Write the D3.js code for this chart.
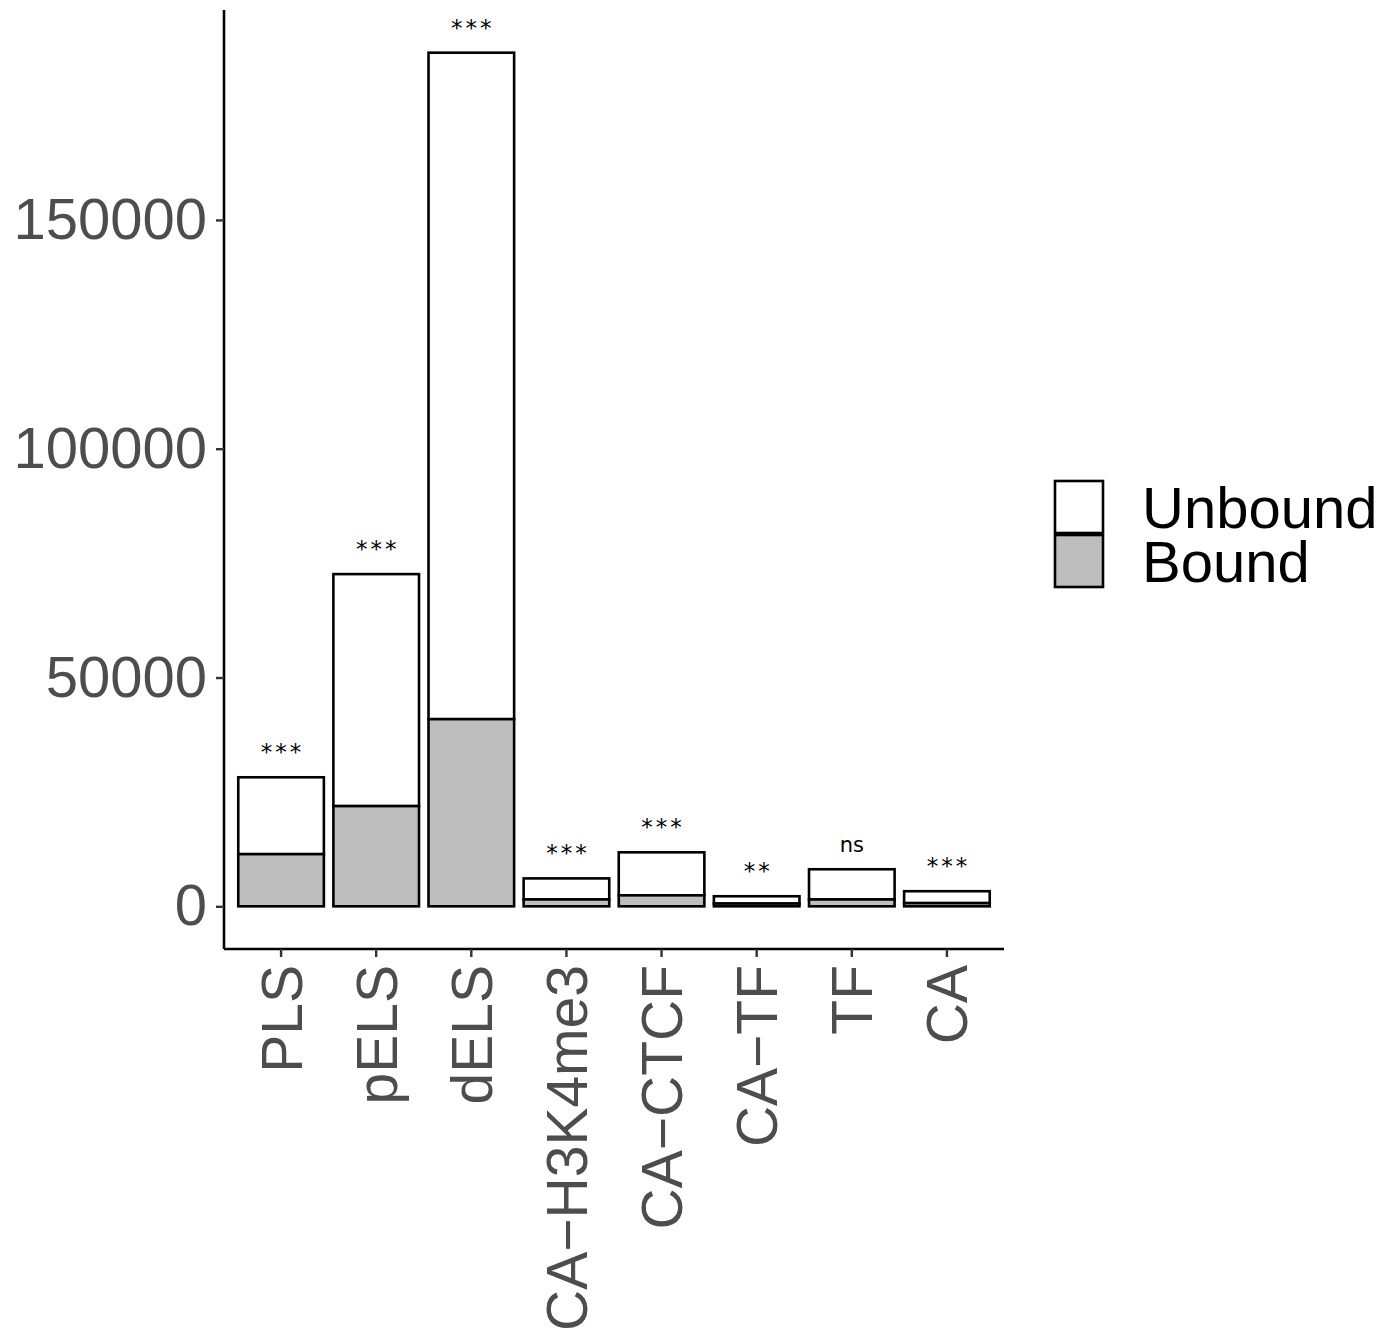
<!DOCTYPE html>
<html>
<head>
<meta charset="utf-8">
<script src="https://cdn.jsdelivr.net/npm/d3@7"></script>
<style>
  body { margin: 0; background: #fff; }
</style>
</head>
<body>
<div id="container"></div>
<script>
// data
const categories = ["PLS", "pELS", "dELS", "CA\u2212H3K4me3", "CA\u2212CTCF", "CA\u2212TF", "TF", "CA"];
const boundVals = [11400, 21900, 40900, 1500, 2400, 600, 1500, 700];
const totalVals = [28200, 72600, 186550, 6100, 11800, 2200, 8100, 3300];
const sigLabels = ["***", "***", "***", "***", "***", "**", "ns", "***"];
const yTicks = [0, 50000, 100000, 150000];
const legendLabels = ["Unbound", "Bound"];
const legendFills = ["#ffffff", "#bebebe"];

const w = 1383, h = 1340;
const svg = d3.select("#container").append("svg")
  .attr("width", w).attr("height", h);

const maxV = d3.max(totalVals);
const y = d3.scaleLinear()
  .domain([-0.05 * maxV, 1.05 * maxV])
  .range([949, 10]);

const x = d3.scaleBand()
  .domain(categories)
  .range([224, 1004])
  .paddingInner(0.1)
  .paddingOuter(0.15);

// bars: bound (bottom) and unbound (top)
const g = svg.append("g");
g.selectAll("rect.unbound")
  .data(categories)
  .enter().append("rect")
  .attr("class", "unbound")
  .attr("x", d => x(d))
  .attr("width", x.bandwidth())
  .attr("y", (d, i) => y(totalVals[i]))
  .attr("height", (d, i) => y(boundVals[i]) - y(totalVals[i]))
  .attr("fill", legendFills[0])
  .attr("stroke", "#000").attr("stroke-width", 2.6);

g.selectAll("rect.bound")
  .data(categories)
  .enter().append("rect")
  .attr("class", "bound")
  .attr("x", d => x(d))
  .attr("width", x.bandwidth())
  .attr("y", (d, i) => y(boundVals[i]))
  .attr("height", (d, i) => y(0) - y(boundVals[i]))
  .attr("fill", legendFills[1])
  .attr("stroke", "#000").attr("stroke-width", 2.6);

// significance labels
g.selectAll("text.sig")
  .data(categories)
  .enter().append("text")
  .attr("class", "sig")
  .attr("x", d => x(d) + x.bandwidth() / 2)
  .attr("y", (d, i) => y(totalVals[i]) - 17)
  .attr("dx", (d, i) => sigLabels[i] === "ns" ? 0 : 1.5)
  .attr("text-anchor", "middle")
  .style("font-family", "'DejaVu Sans', sans-serif")
  .style("font-size", (d, i) => sigLabels[i] === "ns" ? "21px" : "23px")
  .style("letter-spacing", (d, i) => sigLabels[i] === "ns" ? "0px" : "3px")
  .attr("fill", "#000")
  .text((d, i) => sigLabels[i]);

// axes
const yAxis = d3.axisLeft(y).tickValues(yTicks).tickFormat(d3.format("d")).tickSize(8).tickPadding(9);
const yG = svg.append("g").attr("transform", "translate(224,0)").call(yAxis);
const xAxis = d3.axisBottom(x).tickSize(8).tickPadding(8);
const xG = svg.append("g").attr("transform", "translate(0,949)").call(xAxis);

[yG, xG].forEach(a => {
  a.select(".domain").attr("stroke", "#000").attr("stroke-width", 2.6);
  a.selectAll(".tick line").attr("stroke", "#333").attr("stroke-width", 2.4);
  a.selectAll("text")
    .style("font-family", "'Liberation Sans', Arial, sans-serif")
    .style("font-size", "57px")
    .attr("fill", "#4d4d4d");
});
yG.selectAll(".tick text").style("font-size", "58px");
yG.select(".domain").attr("d", "M0,10V949");
xG.select(".domain").attr("d", "M224,0H1004");

xG.selectAll(".tick text")
  .attr("transform", "rotate(-90)")
  .attr("text-anchor", "end")
  .attr("x", -16)
  .attr("y", 0)
  .attr("dy", "0.36em");

// legend
const leg = svg.append("g").attr("transform", "translate(1055,481)");
legendLabels.forEach((lab, i) => {
  leg.append("rect")
    .attr("x", 0).attr("y", i * 54)
    .attr("width", 48).attr("height", 52)
    .attr("fill", legendFills[i])
    .attr("stroke", "#000").attr("stroke-width", 2.6);
  leg.append("text")
    .attr("x", 87).attr("y", i * 54 + 26)
    .attr("dy", "0.36em")
    .style("font-family", "'Liberation Sans', Arial, sans-serif")
    .style("font-size", "58px")
    .attr("fill", "#000")
    .text(lab);
});
</script>
</body>
</html>
